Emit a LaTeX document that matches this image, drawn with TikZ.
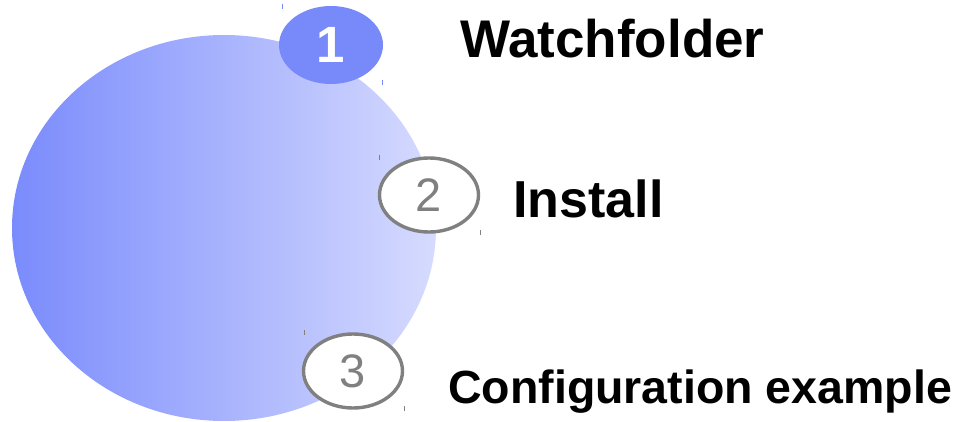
\documentclass[tikz,border=0pt]{standalone}
\usepackage{fontspec}
\setmainfont{Liberation Sans}
\usetikzlibrary{shapes.geometric}
\definecolor{bluedeep}{HTML}{7889FA}
\definecolor{blueleft}{HTML}{7A8BFC}
\definecolor{blueright}{HTML}{D6DBFE}
\definecolor{ringgray}{HTML}{808080}
\tikzset{
  bigdisc/.style={ellipse, draw=none, minimum width=424pt, minimum height=386pt,
    inner sep=0pt, left color=blueleft, right color=blueright, shading angle=90},
  markfilled/.style={ellipse, fill=bluedeep, draw=none, minimum width=104pt,
    minimum height=78pt, inner sep=0pt, text=white,
    font=\fontsize{51}{51}\selectfont\bfseries},
  markring/.style={ellipse, fill=white, draw=ringgray, line width=3.4pt,
    minimum width=99pt, minimum height=74pt, inner sep=0pt, text=ringgray,
    font=\fontsize{47}{47}\selectfont},
  caption/.style={anchor=base west, inner sep=0pt, font=\bfseries},
  handle/.style={line width=0.9pt}
}
\begin{document}
\begin{tikzpicture}[x=1pt, y=-1pt]
  \useasboundingbox (0,0) rectangle (975,422);
  % large shaded disc
  \node[bigdisc] (disc) at (224,228) {};
  % numbered markers
  \node[markfilled] (m1) at (331,45) {1};
  \node[markring] (m2) at (429,195) {2};
  \node[markring] (m3) at (353,371) {3};
  % small corner handles around the markers
  \coordinate (h1a) at (282,4);  \coordinate (h1b) at (282,9);
  \coordinate (h1c) at (382,80); \coordinate (h1d) at (382,85);
  \draw[handle, bluedeep] (h1a) -- (h1b) (h1c) -- (h1d);
  \coordinate (h2a) at (379,155); \coordinate (h2b) at (379,160);
  \coordinate (h2c) at (480,230); \coordinate (h2d) at (480,235);
  \draw[handle, ringgray] (h2a) -- (h2b) (h2c) -- (h2d);
  \coordinate (h3a) at (304,330); \coordinate (h3b) at (304,335);
  \coordinate (h3c) at (404,406); \coordinate (h3d) at (404,411);
  \draw[handle, ringgray] (h3a) -- (h3b) (h3c) -- (h3d);
  % captions
  \node[caption, font=\fontsize{53}{53}\selectfont\bfseries] (t1) at (460,58) {Watchfolder};
  \node[caption, font=\fontsize{52}{52}\selectfont\bfseries] (t2) at (513,218) {Install};
  \node[caption, font=\fontsize{46.5}{46.5}\selectfont\bfseries] (t3) at (448,403) {Configuration example};
\end{tikzpicture}
\end{document}
